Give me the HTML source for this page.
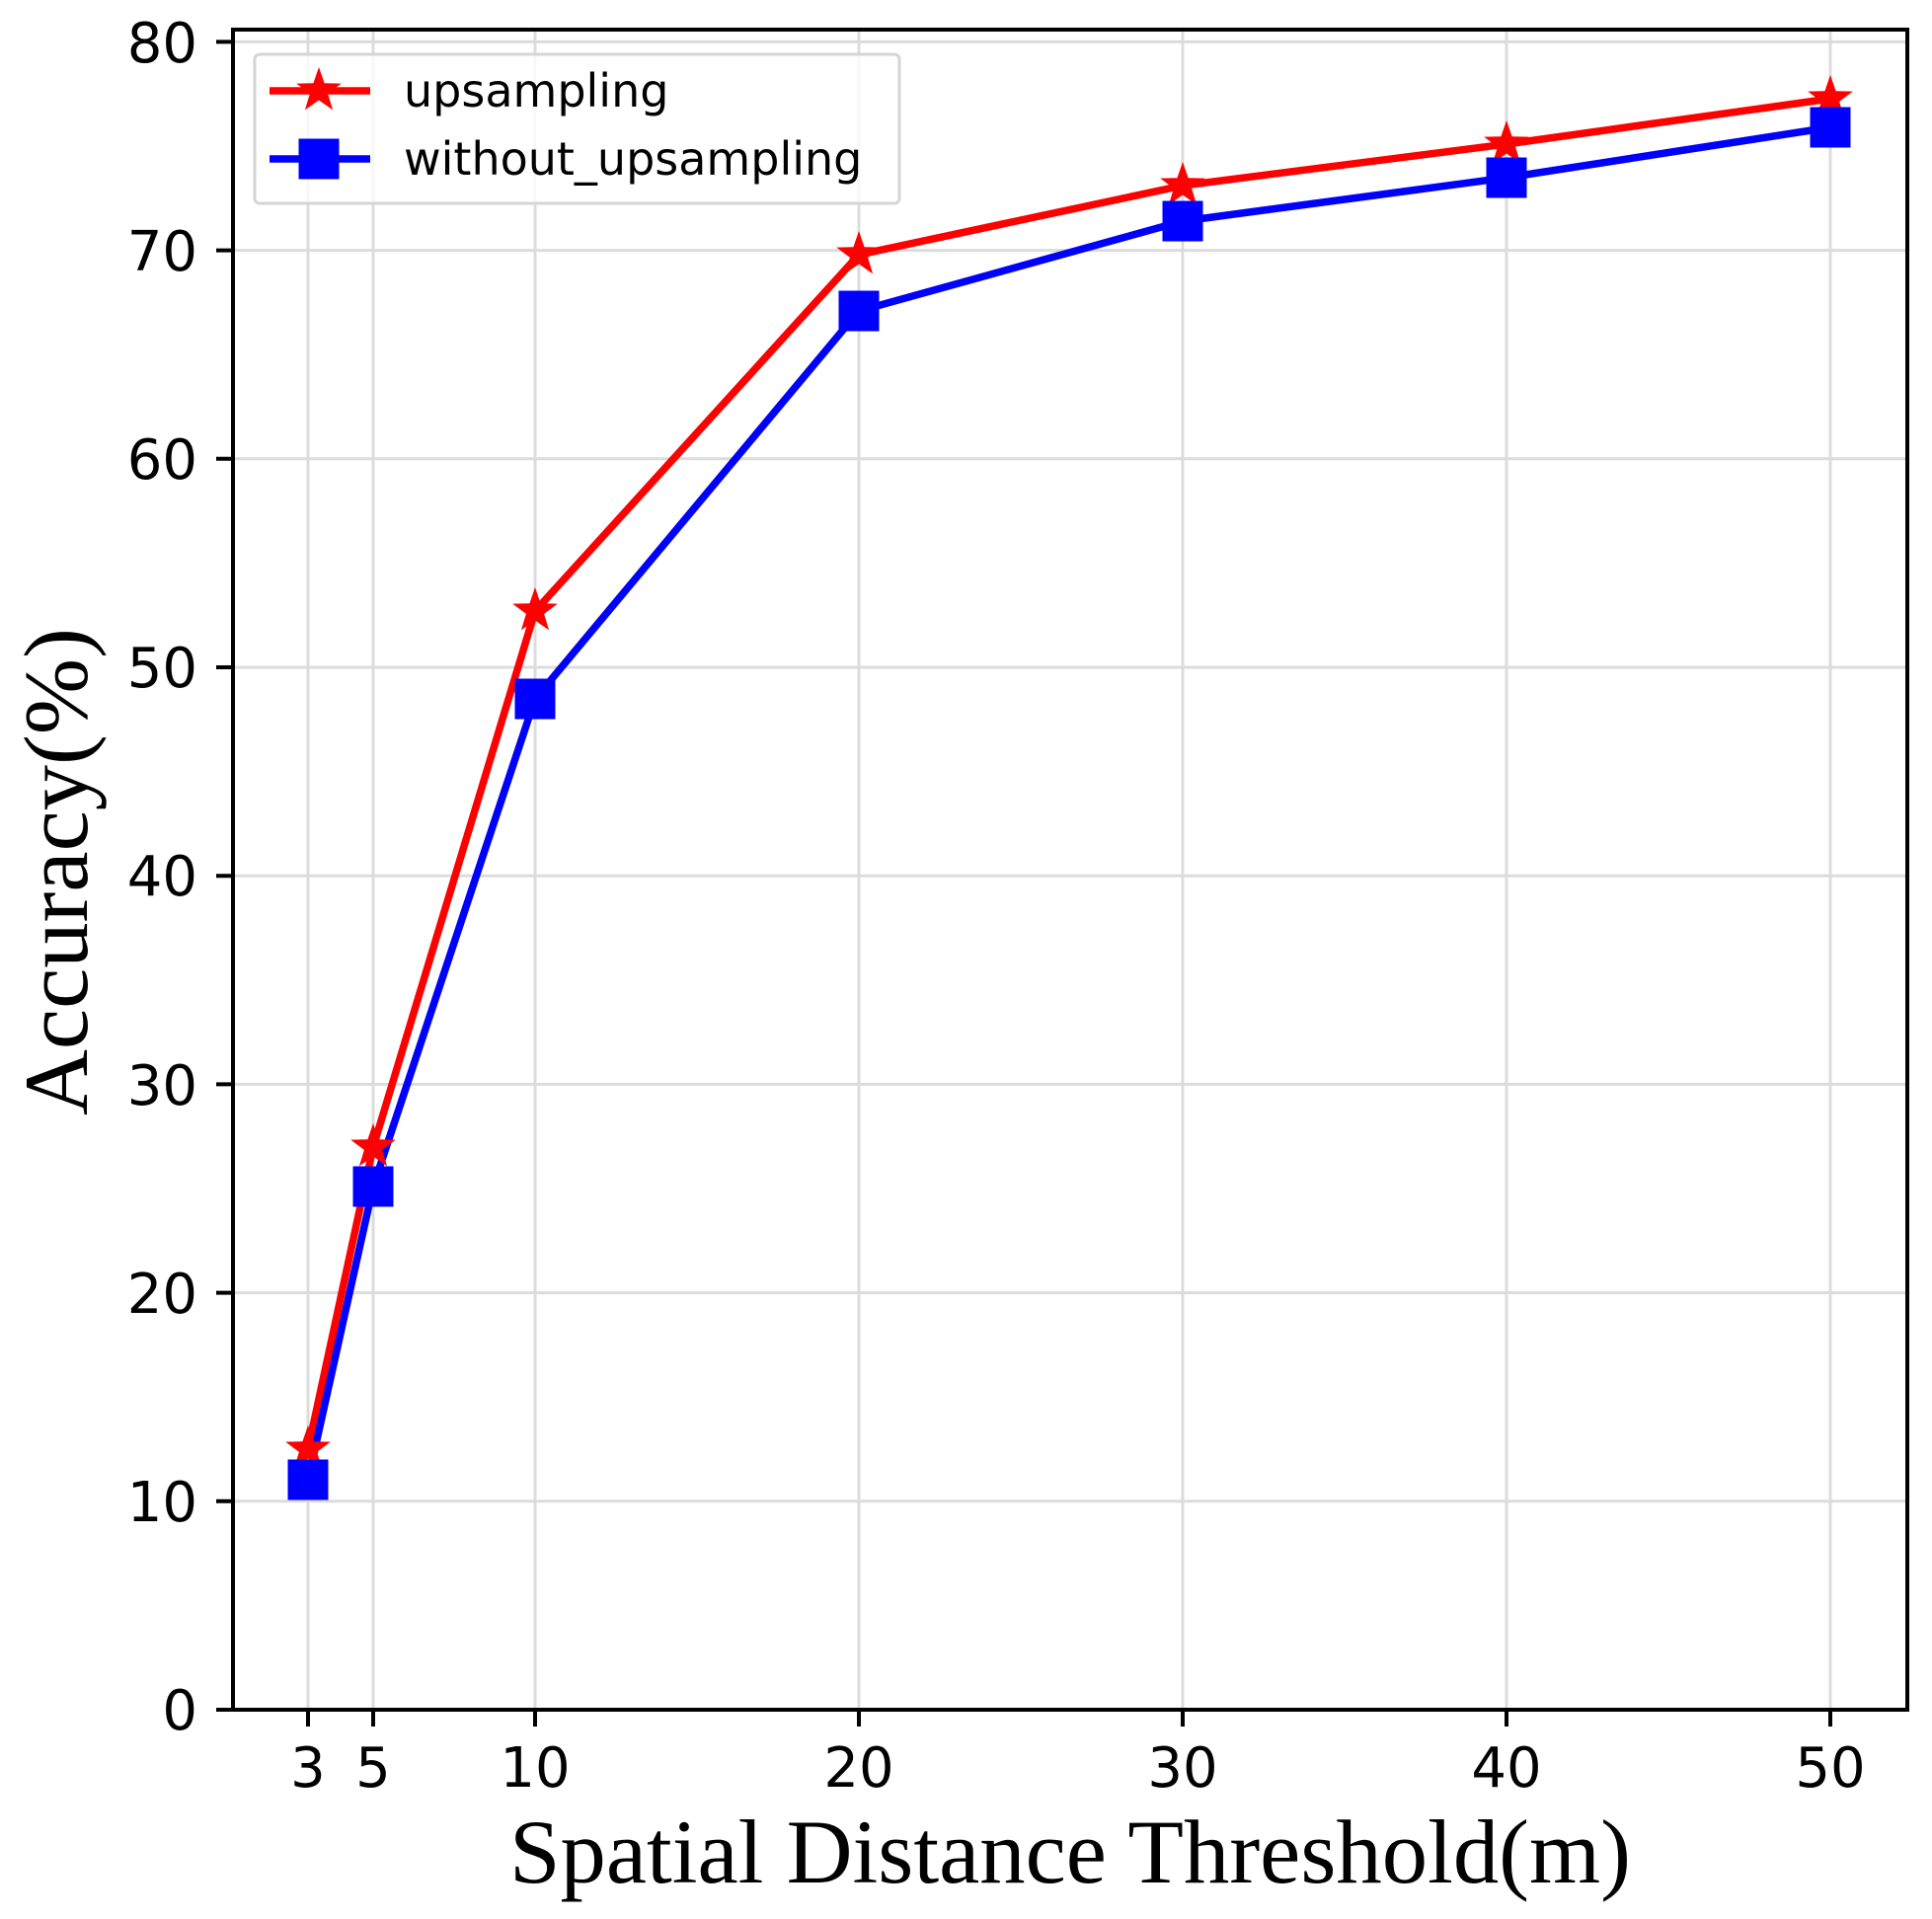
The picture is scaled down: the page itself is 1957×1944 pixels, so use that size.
<!DOCTYPE html>
<html><head><meta charset="utf-8"><style>body{margin:0;background:#fff}</style></head><body>
<svg width="1957" height="1939" viewBox="0 0 1957 1939" xmlns="http://www.w3.org/2000/svg">
<defs>
<polygon id="st" points="0,-24 5.6,-7.7 22.8,-7.4 9.1,2.9 14.1,19.4 0,9.5 -14.1,19.4 -9.1,2.9 -22.8,-7.4 -5.6,-7.7" fill="#f00"/>
<rect id="sq" x="-20.5" y="-20.5" width="41" height="41" fill="#00f"/>
</defs>
<g stroke="#dcdcdc" stroke-width="3">
<line x1="312" y1="30" x2="312" y2="1732"/><line x1="378" y1="30" x2="378" y2="1732"/><line x1="542" y1="30" x2="542" y2="1732"/><line x1="870" y1="30" x2="870" y2="1732"/><line x1="1198" y1="30" x2="1198" y2="1732"/><line x1="1526" y1="30" x2="1526" y2="1732"/><line x1="1854" y1="30" x2="1854" y2="1732"/>
<line x1="236" y1="1520.8" x2="1932" y2="1520.8"/><line x1="236" y1="1309.6" x2="1932" y2="1309.6"/><line x1="236" y1="1098.4" x2="1932" y2="1098.4"/><line x1="236" y1="887.2" x2="1932" y2="887.2"/><line x1="236" y1="676" x2="1932" y2="676"/><line x1="236" y1="464.8" x2="1932" y2="464.8"/><line x1="236" y1="253.6" x2="1932" y2="253.6"/><line x1="236" y1="42.4" x2="1932" y2="42.4"/>
</g>
<rect x="236" y="30" width="1696" height="1702" fill="none" stroke="#000" stroke-width="4"/>
<g stroke="#000" stroke-width="4">
<line x1="219" y1="1732" x2="236" y2="1732"/><line x1="219" y1="1520.8" x2="236" y2="1520.8"/><line x1="219" y1="1309.6" x2="236" y2="1309.6"/><line x1="219" y1="1098.4" x2="236" y2="1098.4"/><line x1="219" y1="887.2" x2="236" y2="887.2"/><line x1="219" y1="676" x2="236" y2="676"/><line x1="219" y1="464.8" x2="236" y2="464.8"/><line x1="219" y1="253.6" x2="236" y2="253.6"/><line x1="219" y1="42.4" x2="236" y2="42.4"/>
<line x1="312" y1="1732" x2="312" y2="1749"/><line x1="378" y1="1732" x2="378" y2="1749"/><line x1="542" y1="1732" x2="542" y2="1749"/><line x1="870" y1="1732" x2="870" y2="1749"/><line x1="1198" y1="1732" x2="1198" y2="1749"/><line x1="1526" y1="1732" x2="1526" y2="1749"/><line x1="1854" y1="1732" x2="1854" y2="1749"/>
</g>
<g font-family="DejaVu Sans, sans-serif" font-size="56" fill="#000" text-anchor="end">
<text x="200" y="1752">0</text><text x="200" y="1541">10</text><text x="200" y="1330">20</text><text x="200" y="1119">30</text><text x="200" y="907">40</text><text x="200" y="696">50</text><text x="200" y="485">60</text><text x="200" y="274">70</text><text x="200" y="63">80</text>
</g>
<g font-family="DejaVu Sans, sans-serif" font-size="56" fill="#000" text-anchor="middle">
<text x="312" y="1810">3</text><text x="378" y="1810">5</text><text x="542" y="1810">10</text><text x="870" y="1810">20</text><text x="1198" y="1810">30</text><text x="1526" y="1810">40</text><text x="1854" y="1810">50</text>
</g>
<text x="1084" y="1907" font-family="Liberation Serif, serif" font-size="92" text-anchor="middle" textLength="1136" lengthAdjust="spacingAndGlyphs">Spatial Distance Threshold(m)</text>
<text transform="translate(88,883) rotate(-90)" font-family="Liberation Serif, serif" font-size="92" text-anchor="middle" textLength="494" lengthAdjust="spacingAndGlyphs">Accuracy(%)</text>
<polyline fill="none" stroke="#f00" stroke-width="7.5" stroke-linejoin="round" points="312,1468 378,1162 542,619 870,258 1198,188 1526,146 1854,100"/>
<polyline fill="none" stroke="#00f" stroke-width="7.5" stroke-linejoin="round" points="312,1499 378,1202 542,708 870,315 1198,224 1526,180 1854,129"/>
<use href="#st" x="312" y="1468"/><use href="#st" x="378" y="1162"/><use href="#st" x="542" y="619"/><use href="#st" x="870" y="258"/><use href="#st" x="1198" y="188"/><use href="#st" x="1526" y="146"/><use href="#st" x="1854" y="100"/>
<use href="#sq" x="312" y="1499"/><use href="#sq" x="378" y="1202"/><use href="#sq" x="542" y="708"/><use href="#sq" x="870" y="315"/><use href="#sq" x="1198" y="224"/><use href="#sq" x="1526" y="180"/><use href="#sq" x="1854" y="129"/>
<rect x="258" y="55" width="653" height="151" rx="5" fill="#fff" fill-opacity="0.8" stroke="#d5d5d5" stroke-width="3"/>
<line x1="273" y1="92" x2="375" y2="92" stroke="#f00" stroke-width="7.5"/>
<use href="#st" x="323" y="92"/>
<line x1="273" y1="161" x2="375" y2="161" stroke="#00f" stroke-width="7.5"/>
<use href="#sq" x="323" y="161"/>
<g font-family="DejaVu Sans, sans-serif" font-size="46" fill="#000">
<text x="409" y="108">upsampling</text><text x="409" y="177">without_upsampling</text>
</g>
</svg>
</body></html>
